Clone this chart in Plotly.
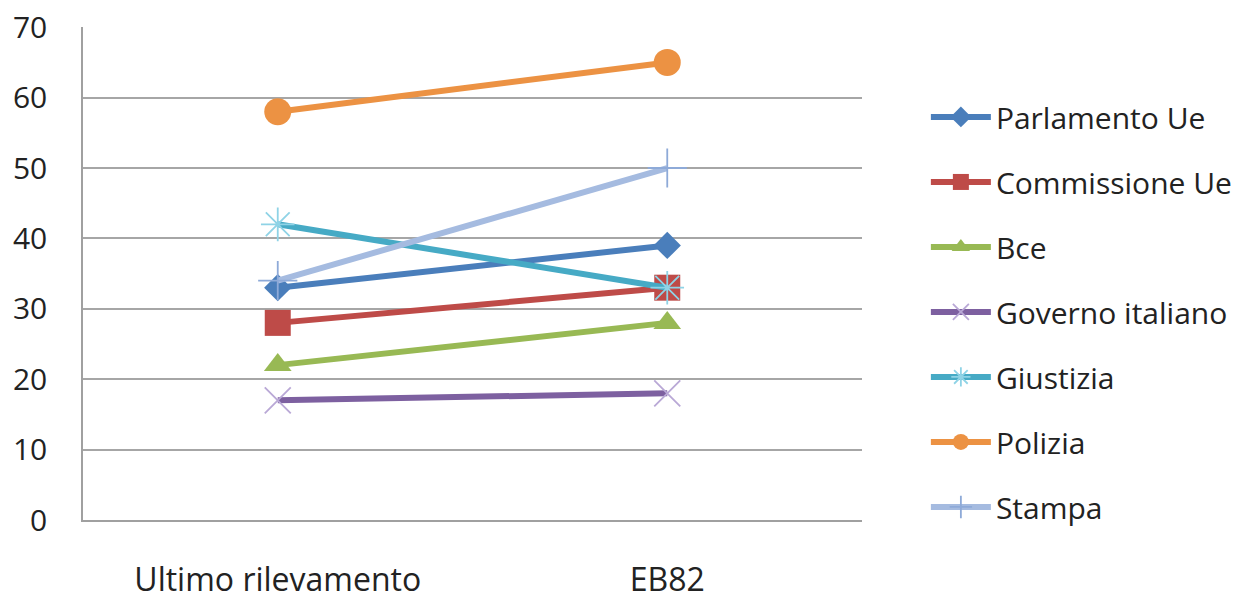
import plotly.graph_objects as go

categories = ["Ultimo rilevamento", "EB82"]
series_names = ["Parlamento Ue", "Commissione Ue", "Bce", "Governo italiano",
                "Giustizia", "Polizia", "Stampa"]
parlamento = [33, 39]
commissione = [28, 33]
bce = [22, 28]
governo = [17, 18]
giustizia = [42, 33]
polizia = [58, 65]
stampa = [34, 50]
y_ticks = [0, 10, 20, 30, 40, 50, 60, 70]

values = [parlamento, commissione, bce, governo, giustizia, polizia, stampa]
line_colors = ["#4a7ebb", "#be4b48", "#98b954", "#7d60a0", "#46aac5", "#ec9243", "#a5bbe0"]
marker_colors = ["#4a7ebb", "#be4b48", "#98b954", "#b9a8d6", "#8fd3e6", "#ec9243", "#8eaad8"]
symbols = ["diamond", "square", "triangle-up", "x-thin", "asterisk", "circle", "cross-thin"]
sizes = [21, 26, 24, 26, 28, 27, 28]

fig = go.Figure()
for name, vals, lc, mc, sym, sz in zip(series_names, values, line_colors, marker_colors, symbols, sizes):
    thin = sym in ("x-thin", "asterisk", "cross-thin")
    fig.add_trace(go.Scatter(
        x=categories, y=vals, name=name, mode="lines+markers",
        legendgroup=name,
        line=dict(color=lc, width=6),
        marker=dict(symbol=sym, size=sz, color=mc,
                    line=dict(color=mc, width=1.8 if thin else 0)),
    ))

# page body has an 8px default margin, so the figure is shrunk and shifted
fig.update_layout(
    width=1245, height=586,
    margin=dict(l=75, r=391, t=19, b=74),
    paper_bgcolor="white", plot_bgcolor="white",
    font=dict(family="Open Sans", size=30, color="#222222"),
    showlegend=True,
    legend=dict(x=1.082, y=0.422, xanchor="left", yanchor="middle",
                tracegroupgap=23, font=dict(size=30),
                itemwidth=60, traceorder="grouped"),
    xaxis=dict(type="category", range=[-0.5, 1.5], showgrid=False,
               showline=True, linecolor="#a0a0a0", linewidth=1.5,
               ticks="", ticklabelstandoff=31, zeroline=False,
               tickfont=dict(size=32), automargin=False,
               ticklabeloverflow="allow"),
    yaxis=dict(range=[0, 70.03], tickvals=y_ticks, showgrid=True,
               gridcolor="#a6a6a6", gridwidth=1.5,
               showline=True, linecolor="#a0a0a0", linewidth=1.5,
               ticks="", ticklabelstandoff=28, zeroline=False,
               automargin=False, ticklabeloverflow="allow"),
)

fig.write_html("out.html")
